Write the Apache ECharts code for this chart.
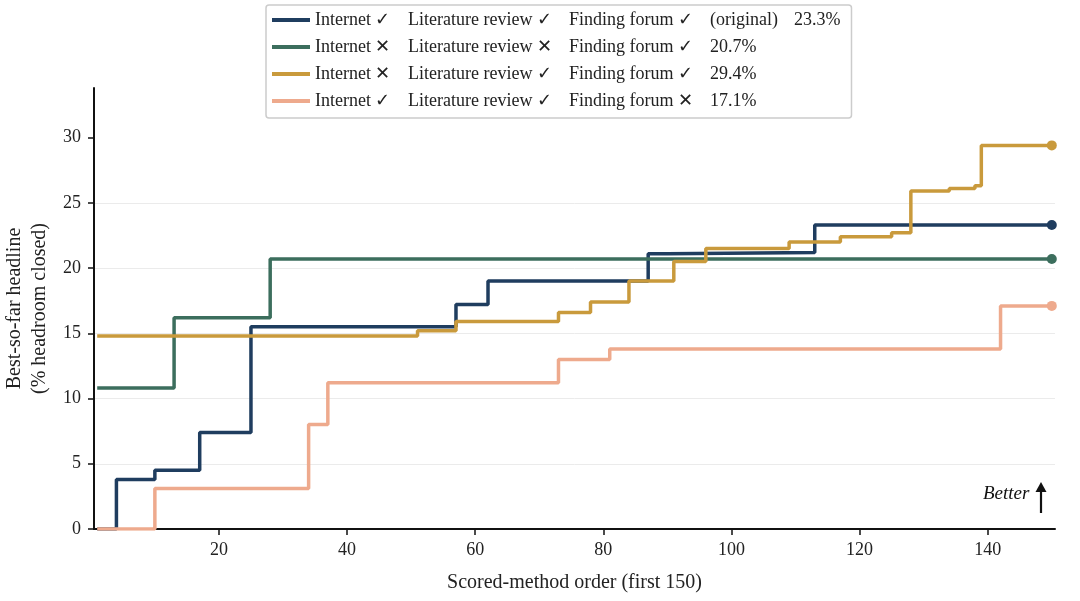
<!DOCTYPE html>
<html>
<head>
<meta charset="utf-8">
<script src="https://cdn.jsdelivr.net/npm/echarts@6/dist/echarts.min.js"></script>
<style>
  html, body { margin: 0; padding: 0; background: #fff; }
  #chart { width: 1080px; height: 601px; }
</style>
</head>
<body>
<div id="chart"></div>
<script>
// step breakpoints [order, best-so-far %]
const originalSteps = [[1, 0], [4, 3.8], [10, 4.5], [17, 7.4], [25, 15.5], [57, 17.2], [62, 19.0], [87, 21.1], [90, 21.2], [113, 23.3], [150, 23.3]];
const noNetNoLitSteps = [[1, 10.8], [13, 16.2], [28, 20.7], [150, 20.7]];
const noNetSteps = [[1, 14.8], [51, 15.2], [57, 15.9], [73, 16.6], [78, 17.4], [84, 19.0], [91, 20.5], [96, 21.5], [109, 22.0], [117, 22.4], [125, 22.7], [128, 25.9], [134, 26.1], [138, 26.3], [139, 29.4], [150, 29.4]];
const noForumSteps = [[1, 0], [10, 3.1], [34, 8.0], [37, 11.2], [73, 13.0], [81, 13.8], [142, 17.1], [150, 17.1]];

const seriesNames = ['original', 'noNetNoLit', 'noNet', 'noForum'];
const seriesColors = ['#1f3d5f', '#3c6e5d', '#c99a3c', '#eeaa8d'];
const seriesSteps = [originalSteps, noNetNoLitSteps, noNetSteps, noForumSteps];

// legend columns
const colInternet = ['Internet ✓', 'Internet ✕', 'Internet ✕', 'Internet ✓'];
const colLit = ['Literature review ✓', 'Literature review ✕', 'Literature review ✓', 'Literature review ✓'];
const colForum = ['Finding forum ✓', 'Finding forum ✓', 'Finding forum ✓', 'Finding forum ✕'];
const colNote = ['(original)', '20.7%', '29.4%', '17.1%'];
const colFinal = ['23.3%', '', '', ''];

const xTicks = [20, 40, 60, 80, 100, 120, 140];
const yTicks = [0, 5, 10, 15, 20, 25, 30];

const FONT = '"Liberation Serif", "Times New Roman", serif';

const chart = echarts.init(document.getElementById('chart'), null, { renderer: 'canvas' });

const series = [];
seriesNames.forEach((name, i) => {
  series.push({
    name: name,
    type: 'line',
    step: 'end',
    data: seriesSteps[i],
    showSymbol: false,
    symbol: 'none',
    lineStyle: { color: seriesColors[i], width: 3.5 },
    itemStyle: { color: seriesColors[i] },
    z: 3 + i
  });
});
// end markers
seriesNames.forEach((name, i) => {
  const last = seriesSteps[i][seriesSteps[i].length - 1];
  series.push({
    name: name + '_end',
    type: 'scatter',
    data: [last],
    symbolSize: 10,
    itemStyle: { color: seriesColors[i], opacity: 1 },
    z: 10
  });
});

const option = {
  animation: false,
  backgroundColor: '#fff',
  textStyle: { fontFamily: FONT },
  grid: { left: 94, right: 25, top: 88, bottom: 72, containLabel: false, outerBoundsMode: 'none' },
  legend: {
    data: seriesNames,
    orient: 'vertical',
    left: 266,
    top: 5,
    padding: [5, 11, 7, 6],
    itemGap: 7,
    itemWidth: 38,
    itemHeight: 4,
    icon: 'rect',
    borderColor: '#cccccc',
    borderWidth: 1.5,
    borderRadius: 3,
    backgroundColor: '#fff',
    selectedMode: false,
    textStyle: {
      fontFamily: FONT,
      fontSize: 18,
      color: '#222',
      lineHeight: 20,
      rich: {
        a: { width: 93, fontFamily: FONT, fontSize: 18, color: '#222' },
        b: { width: 161, fontFamily: FONT, fontSize: 18, color: '#222' },
        c: { width: 141, fontFamily: FONT, fontSize: 18, color: '#222' },
        d: { width: 84, fontFamily: FONT, fontSize: 18, color: '#222' },
        e: { fontFamily: FONT, fontSize: 18, color: '#222' }
      }
    },
    formatter: function (name) {
      const i = seriesNames.indexOf(name);
      let s = '{a|' + colInternet[i] + '}{b|' + colLit[i] + '}{c|' + colForum[i] + '}{d|' + colNote[i] + '}';
      if (colFinal[i]) s += '{e|' + colFinal[i] + '}';
      return s;
    }
  },
  xAxis: {
    type: 'value',
    min: 0.5,
    max: 150.5,
    name: 'Scored-method order (first 150)',
    nameLocation: 'middle',
    nameGap: 44,
    nameTextStyle: { fontFamily: FONT, fontSize: 20, color: '#222' },
    axisLine: { show: true, lineStyle: { color: '#111', width: 2 } },
    axisTick: { show: true, length: 6, lineStyle: { color: '#111', width: 1.5 }, customValues: xTicks },
    axisLabel: { fontFamily: FONT, fontSize: 18, color: '#222', margin: 12, customValues: xTicks },
    splitLine: { show: false }
  },
  yAxis: {
    type: 'value',
    min: 0,
    max: 33.8,
    interval: 5,
    name: 'Best-so-far headline\n(% headroom closed)',
    nameLocation: 'middle',
    nameRotate: 90,
    nameGap: 42,
    nameTextStyle: { fontFamily: FONT, fontSize: 20, color: '#222', lineHeight: 25 },
    axisLine: { show: true, lineStyle: { color: '#111', width: 2 } },
    axisTick: { show: true, length: 6, lineStyle: { color: '#111', width: 1.5 }, customValues: yTicks },
    axisLabel: { fontFamily: FONT, fontSize: 18, color: '#222', margin: 13, customValues: yTicks },
    splitLine: { show: true, showMaxLine: false, showMinLine: false, lineStyle: { color: '#ebebeb', width: 1 } }
  },
  graphic: [
    {
      type: 'text',
      left: 983,
      top: 484,
      style: { text: 'Better', font: 'italic 19px ' + FONT, fill: '#111' }
    },
    {
      type: 'line',
      shape: { x1: 1041, y1: 513, x2: 1041, y2: 490 },
      style: { stroke: '#111', lineWidth: 2.2 }
    },
    {
      type: 'polygon',
      shape: { points: [[1035.5, 492], [1046.5, 492], [1041, 482]] },
      style: { fill: '#111' }
    }
  ],
  series: series
};

chart.setOption(option);
</script>
</body>
</html>
